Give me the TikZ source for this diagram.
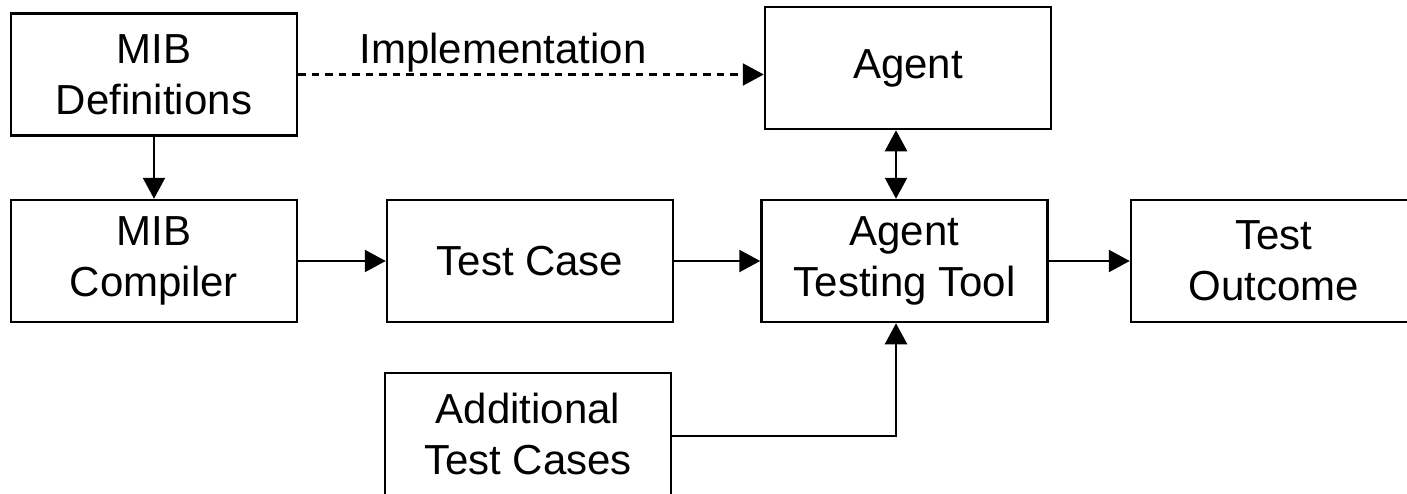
\documentclass[tikz,border=0pt]{standalone}
\usepackage{fontspec}
\setmainfont{Liberation Sans}
\usetikzlibrary{positioning,arrows.meta}

\begin{document}
\begin{tikzpicture}[
  block/.style={rectangle, draw, line width=2.5pt, minimum width=286pt, minimum height=122pt, align=center, font=\fontsize{42pt}{51pt}\selectfont},
  arr/.style={-{Triangle[length=21pt,width=22pt]}, line width=2.4pt},
  dblarr/.style={{Triangle[length=21pt,width=22pt]}-{Triangle[length=21pt,width=22pt]}, line width=2.4pt},
  on grid
]
\useasboundingbox (0,0) rectangle (1407pt,-493pt);
\clip (0,0) rectangle (1407pt,-493pt);
\fill[white] (0,0) rectangle (1407pt,-493pt);

% Upper left: MIB definitions
\node[block] (def) at (154pt,-74.5pt) {MIB\\Definitions};

% Main row
\node[block, below=186.5pt of def] (comp) {MIB\\Compiler};
\node[block, right=376pt of comp] (tc) {Test Case};
\node[block, right=374.5pt of tc] (att) {Agent\\Testing Tool};
\node[block, right=369.5pt of att] (out) {Test\\Outcome};

% Agent above, extra cases below
\node[block, above=193pt of att, xshift=3.5pt] (agent) {Agent};
\node[block, below=173pt of tc, xshift=-2pt] (add) {Additional\\Test Cases};

% Connections
\draw[arr, dash pattern=on 7.5pt off 6pt] (def.east) -- (def.east -| agent.west)
  node[pos=0.44, above, inner sep=1pt, font=\fontsize{42pt}{51pt}\selectfont] {Implementation};
\draw[arr] (def) -- (comp);
\draw[arr] (comp) -- (tc);
\draw[arr] (tc) -- (att);
\draw[arr] (att) -- (out);

% Agent <-> testing tool, additional cases
\draw[dblarr] ([xshift=-12pt]agent.south) -- ([xshift=-12pt]agent.south |- att.north);
\draw[arr] ([yshift=-2pt]add.east) -| ([xshift=-8.5pt]att.south);
\end{tikzpicture}
\end{document}
